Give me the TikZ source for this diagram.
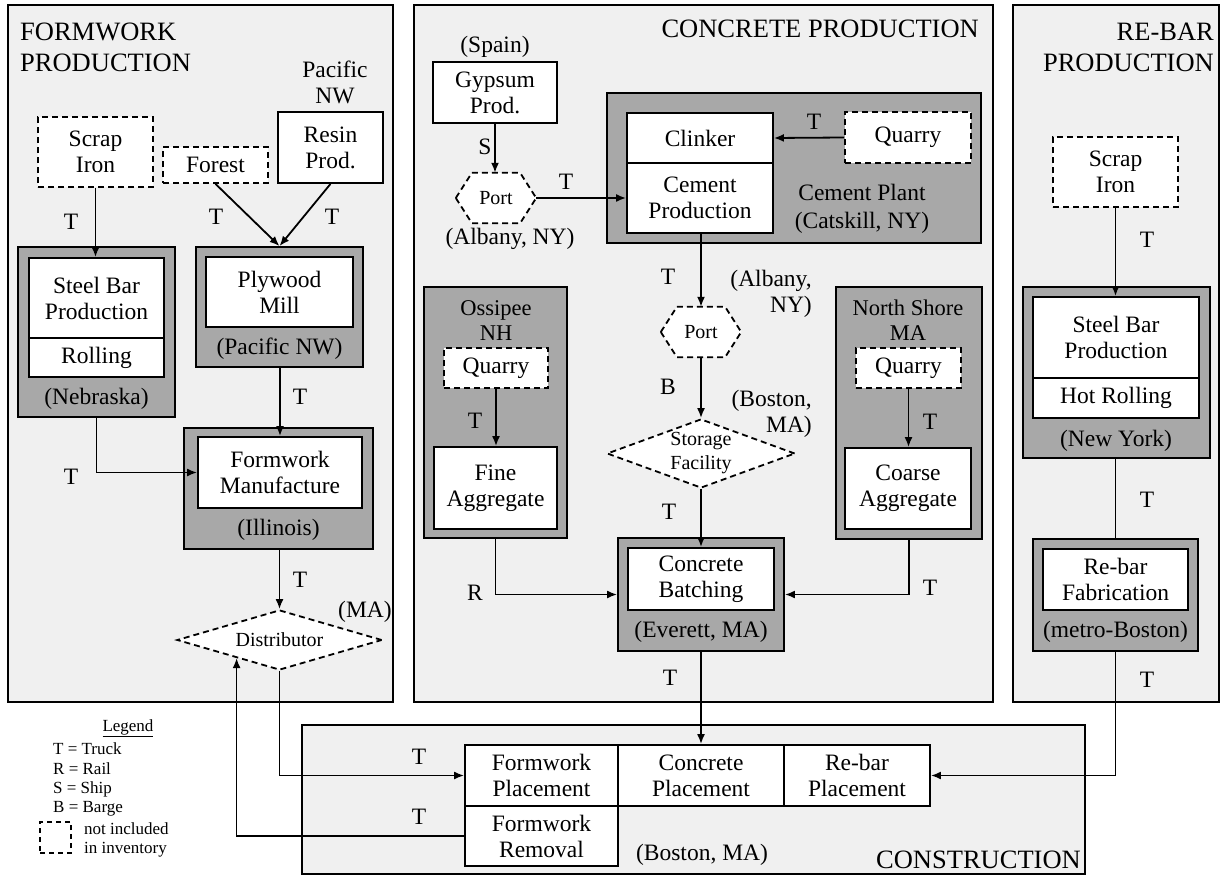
\documentclass[tikz,border=0pt]{standalone}
\usepackage{fontspec}
\setmainfont{Liberation Serif}
\usetikzlibrary{arrows.meta,shapes.geometric,calc}
\definecolor{panelbg}{RGB}{240,240,240}
\definecolor{groupbg}{RGB}{168,168,168}
\newcommand\fbody{\fontsize{23.5}{26}\selectfont}
\newcommand\ftitle{\fontsize{26.5}{31}\selectfont}
\newcommand\fsmall{\fontsize{20}{24}\selectfont}
\newcommand\flegend{\fontsize{17}{20.5}\selectfont}
\tikzset{
  sz/.style 2 args={minimum width=#1pt, minimum height=#2pt},
  panel/.style={draw, line width=1.5pt, fill=panelbg, inner sep=0},
  grp/.style={draw, line width=1.8pt, fill=groupbg, inner sep=0},
  box/.style={draw, line width=1.8pt, fill=white, inner sep=0, align=center, font=\fbody},
  dashbox/.style={box, dash pattern=on 6pt off 4pt},
  lbl/.style={inner sep=0, align=center, font=\fbody},
  mode/.style={inner sep=0, font=\fbody},
  ttl/.style={inner sep=0, font=\ftitle},
  leg/.style={inner sep=0, anchor=west, font=\flegend},
  flow/.style={line width=1.8pt, -{Latex[length=10pt,width=8pt]}},
  link/.style={line width=1.8pt},
  hexline/.style={line width=1.8pt, dash pattern=on 6pt off 4pt, fill=white},
  dia/.style={diamond, draw, line width=1.8pt, dash pattern=on 6pt off 4pt, fill=white, inner sep=0},
}
% dashed hexagon drawn round an empty node
\newcommand\hexround[1]{%
  \draw[hexline] (#1.west)
    -- ($(#1.north west)!.2!(#1.north east)$)
    -- ($(#1.north west)!.8!(#1.north east)$)
    -- (#1.east)
    -- ($(#1.south west)!.8!(#1.south east)$)
    -- ($(#1.south west)!.2!(#1.south east)$)
    -- cycle;}
\begin{document}
\begin{tikzpicture}[x=1pt,y=-1pt]
\useasboundingbox (0,0) rectangle (1225,877);

% ---------- panels ----------
\node[panel, sz={385}{697}] (pFW) at (200.5,353.5) {};
\node[panel, sz={579}{697}] (pCP) at (703.5,353.5) {};
\node[panel, sz={206}{697}] (pRB) at (1116,353.5) {};
\node[panel, sz={783}{149}] (pCN) at (693.5,799.5) {};

\node[ttl, anchor=west, align=left] (tFW) at (20,47) {FORMWORK\\PRODUCTION};
\node[ttl, anchor=east] (tCP) at (979,29) {CONCRETE PRODUCTION};
\node[ttl, anchor=east, align=right] (tRB) at (1214,47.5) {RE-BAR\\PRODUCTION};
\node[ttl, anchor=east] (tCN) at (1081,860) {CONSTRUCTION};

% ---------- formwork production ----------
\node[lbl] (pacnw) at (335,82) {Pacific\\NW};
\node[dashbox, sz={115}{70}] (scrapA) at (95.5,152) {Scrap\\Iron};
\node[dashbox, sz={105}{36}] (forest) at (215.5,165) {Forest};
\node[box, sz={105}{71}] (resin) at (330.5,147.5) {Resin\\Prod.};

\node[grp, sz={157}{170}] (steelGrp) at (96.5,332) {};
\node[box, sz={135}{80}] (steelA) at (96.5,298) {Steel Bar\\Production};
\node[box, sz={135}{39}] (rollA) at (96.5,357.5) {Rolling};
\node[lbl] (nebr) at (96.5,399) {(Nebraska)};

\node[grp, sz={167}{120}] (plyGrp) at (279.5,307) {};
\node[box, sz={147}{70}] (ply) at (279.5,292) {Plywood\\Mill};
\node[lbl] (pacnw2) at (279.5,349) {(Pacific NW)};

\node[grp, sz={189}{121}] (fmGrp) at (278.5,488.5) {};
\node[box, sz={164}{71}] (fm) at (280,472.5) {Formwork\\Manufacture};
\node[lbl] (illi) at (278.5,530) {(Illinois)};

\node[dia, minimum width=205pt, minimum height=60pt, aspect=3.4] (dist) at (279.5,640) {};
\node[inner sep=0, font=\fsmall] (distT) at (dist) {Distributor};
\node[lbl] (distLoc) at (365,612) {(MA)};

\node[mode] (m1) at (71,222) {T};
\node[mode] (m2) at (216,217) {T};
\node[mode] (m3) at (332,217) {T};
\node[mode] (m4) at (300,397) {T};
\node[mode] (m5) at (71,477) {T};
\node[mode] (m6) at (300,580) {T};

\draw[flow] (scrapA.south) -- (scrapA.south |- steelA.north);
\draw[flow] (forest.south) -- (plyGrp.north);
\draw[flow] (resin.south) -- (plyGrp.north);
\draw[flow] (plyGrp.south -| fm.north) -- (fm.north);
\draw[flow] (steelGrp.south) |- (fm.west);
\draw[flow] (fmGrp.south -| dist.north) -- (dist.north);

% ---------- concrete production ----------
\node[lbl] (spain) at (495,47) {(Spain)};
\node[box, sz={124}{61}] (gyp) at (495,92.5) {Gypsum\\Prod.};
\node[sz={80}{50}, inner sep=0] (port1) at (496,198) {};
\hexround{port1}
\node[inner sep=0, font=\fsmall] (port1T) at (port1) {Port};
\node[lbl] (alb1) at (510,239) {(Albany, NY)};
\node[mode] (m7) at (485,147) {S};
\node[mode] (m8) at (566,182) {T};

\node[grp, sz={374}{150}] (cemGrp) at (794,168) {};
\node[box, sz={146}{50}] (clinker) at (700,138) {Clinker};
\node[box, sz={146}{70}] (cemProd) at (700,198) {Cement\\Production};
\node[dashbox, sz={126}{51}] (quarryC) at (908,137.5) {Quarry};
\node[mode] (m9) at (814,122) {T};
\node[inner sep=0, align=center, font=\fontsize{23.5}{28}\selectfont] (cemLoc) at (862,209) {Cement Plant\\(Catskill, NY)};

\draw[flow] (gyp.south) -- (gyp.south |- port1.north);
\draw[flow] (port1.east) -- (cemProd.west);
\draw[flow] (quarryC.west) -- (clinker.east);

\node[sz={80}{50}, inner sep=0] (port2) at (701,332) {};
\hexround{port2}
\node[inner sep=0, font=\fsmall] (port2T) at (port2) {Port};
\node[mode] (m10) at (668,277) {T};
\node[inner sep=0, anchor=east, align=right, font=\fbody] (alb2) at (812,293.5) {(Albany,\\NY)};
\draw[flow] (cemProd.south -| port2.north) -- (port2.north);

\node[mode] (m11) at (668,387) {B};
\node[inner sep=0, anchor=east, align=right, font=\fbody] (bos1) at (812,413.5) {(Boston,\\MA)};
\node[dia, minimum width=188pt, minimum height=69pt, aspect=2.72] (store) at (701,453.5) {};
\node[inner sep=0, align=center, font=\fsmall] (storeT) at (store) {Storage\\Facility};
\draw[flow] (port2.south) -- (store.north);

\node[grp, sz={143}{251}] (ossGrp) at (495.5,412.5) {};
\node[inner sep=0, align=center, font=\fontsize{22.5}{25}\selectfont] (ossLoc) at (496,320.5) {Ossipee\\NH};
\node[dashbox, sz={104}{40}] (quarryL) at (496,368) {Quarry};
\node[box, sz={123}{82}] (fine) at (495.5,488) {Fine\\Aggregate};
\node[mode] (m12) at (475,421) {T};
\draw[flow] (quarryL.south) -- (quarryL.south |- fine.north);

\node[grp, sz={146}{252}] (nsGrp) at (909,413) {};
\node[inner sep=0, align=center, font=\fontsize{22.5}{25}\selectfont] (nsLoc) at (908,320.5) {North Shore\\MA};
\node[dashbox, sz={105}{40}] (quarryR) at (908.5,368) {Quarry};
\node[box, sz={126}{81}] (coarse) at (908,488.5) {Coarse\\Aggregate};
\node[mode] (m13) at (930,422) {T};
\draw[flow] (quarryR.south) -- (quarryR.south |- coarse.north);

\node[grp, sz={166}{113}] (evGrp) at (701,594.5) {};
\node[box, sz={146}{62}] (batch) at (701,579) {Concrete\\Batching};
\node[lbl] (evLoc) at (701,632) {(Everett, MA)};
\node[mode] (m14) at (669,512) {T};
\node[mode] (m15) at (475,593) {R};
\node[mode] (m16) at (930,588) {T};
\node[mode] (m17) at (670,678) {T};

\draw[flow] (store.south) -- (batch.north);
\draw[flow] (ossGrp.south) |- (evGrp.west);
\draw[flow] (nsGrp.south) |- (evGrp.east);

% ---------- re-bar production ----------
\node[dashbox, sz={125}{70}] (scrapB) at (1115.5,172) {Scrap\\Iron};
\node[mode] (m18) at (1147,240) {T};
\node[grp, sz={187}{171}] (rbGrp) at (1116.5,372.5) {};
\node[box, sz={166}{81}] (steelB) at (1116,337.5) {Steel Bar\\Production};
\node[box, sz={166}{40}] (hotroll) at (1116,398) {Hot Rolling};
\node[lbl] (nyLoc) at (1116,441) {(New York)};
\node[mode] (m19) at (1147,500) {T};
\node[grp, sz={165}{112}] (fabGrp) at (1115.5,595) {};
\node[box, sz={145}{61}] (fab) at (1115.5,579.5) {Re-bar\\Fabrication};
\node[lbl] (mbLoc) at (1115.5,632) {(metro-Boston)};
\node[mode] (m20) at (1147,680) {T};

\draw[flow] (scrapB.south) -- (scrapB.south |- steelB.north);
\draw[link] (rbGrp.south -| fabGrp.north) -- (fabGrp.north);

% ---------- construction ----------
\node[box, sz={153}{61}] (fwPlace) at (541.5,775.5) {Formwork\\Placement};
\node[box, sz={153}{60}] (fwRemove) at (541.5,836) {Formwork\\Removal};
\node[box, sz={166}{61}] (cnPlace) at (701,775.5) {Concrete\\Placement};
\node[box, sz={146}{61}] (rbPlace) at (857,775.5) {Re-bar\\Placement};
\node[lbl] (cnLoc) at (702,855) {(Boston, MA)};
\node[mode] (m21) at (419,757) {T};
\node[mode] (m22) at (419,817) {T};

\draw[flow] (evGrp.south) -- (cnPlace.north);
\draw[flow] (fabGrp.south) |- (rbPlace.east);
\draw[flow] (dist.south) |- (fwPlace.west);
\coordinate (distIn) at ($(dist.west)!.585!(dist.south)$);
\draw[flow] (fwRemove.west) -| (distIn);

% ---------- legend ----------
\node[inner sep=0, font=\flegend] (legHead) at (128,728) {\underline{Legend}};
\node[leg] (legT) at (53,749) {T = Truck};
\node[leg] (legR) at (53,769) {R = Rail};
\node[leg] (legS) at (53,789) {S = Ship};
\node[leg] (legB) at (53,809) {B = Barge};
\node[draw, line width=1.3pt, dash pattern=on 5pt off 4pt, sz={31}{31}, inner sep=0] (legBox) at (55.5,837.5) {};
\node[leg] (legN1) at (84,829) {not included};
\node[leg] (legN2) at (84,850) {in inventory};
\end{tikzpicture}
\end{document}
